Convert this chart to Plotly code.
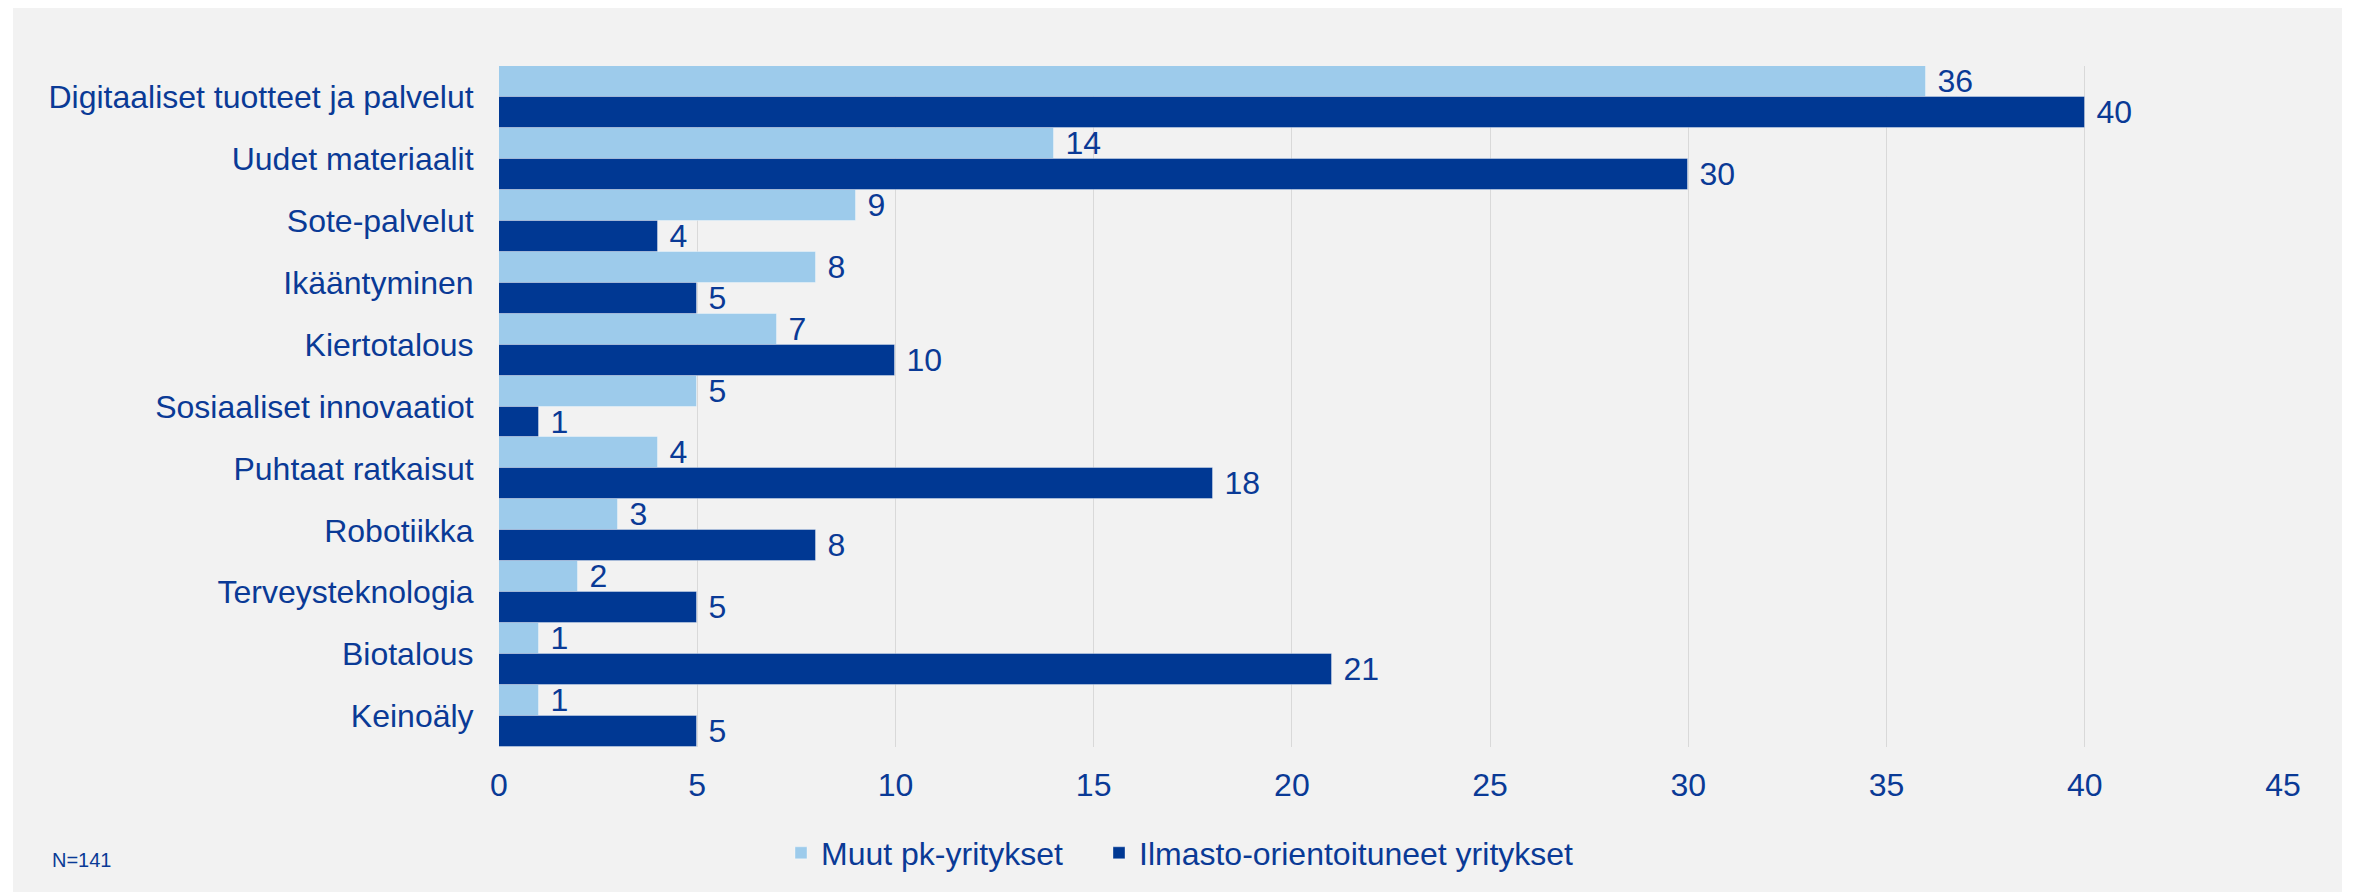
import plotly.graph_objects as go

categories = [
    "Digitaaliset tuotteet ja palvelut",
    "Uudet materiaalit",
    "Sote-palvelut",
    "Ikääntyminen",
    "Kiertotalous",
    "Sosiaaliset innovaatiot",
    "Puhtaat ratkaisut",
    "Robotiikka",
    "Terveysteknologia",
    "Biotalous",
    "Keinoäly",
]
muut = [36, 14, 9, 8, 7, 5, 4, 3, 2, 1, 1]
ilmasto = [40, 30, 4, 5, 10, 1, 18, 8, 5, 21, 5]
series_names = ["Muut pk-yritykset", "Ilmasto-orientoituneet yritykset"]
x_ticks = [0, 5, 10, 15, 20, 25, 30, 35, 40, 45]
note = "N=141"

LIGHT = "#9DCBEB"
DARK = "#003893"
TEXT = "#0A3A96"
FONT = "Liberation Sans, Arial, sans-serif"
FS = 32

W, H = 2354, 892
L, R, T, B = 491, 2275, 58, 739

def px(xp):
    return (xp - L) / (R - L)

def py(yp):
    return (B - yp) / (B - T)

fig = go.Figure()
for name, vals, col, lg in [(series_names[0], muut, LIGHT, "legend"),
                            (series_names[1], ilmasto, DARK, "legend2")]:
    fig.add_trace(go.Bar(
        y=categories, x=vals, name=name, orientation="h", legend=lg,
        marker=dict(color=col, line=dict(color="rgba(255,255,255,0.35)", width=1)),
        text=[f"\u00a0{v}" for v in vals], textposition="outside",
        constraintext="none",
        textfont=dict(family=FONT, size=FS, color=TEXT),
        cliponaxis=False,
    ))

fig.add_shape(type="rect", xref="paper", yref="paper",
              x0=px(5), x1=px(2334), y0=py(900), y1=py(-5),
              fillcolor="#F2F2F2", line=dict(width=0), layer="below")

fig.add_annotation(text=note, xref="paper", yref="paper", x=px(42), y=py(852),
                   xanchor="left", yanchor="middle", showarrow=False,
                   font=dict(family=FONT, size=20, color=TEXT))

legend_common = dict(orientation="h", yanchor="middle", xanchor="left", y=py(845),
                     font=dict(family=FONT, size=FS, color=TEXT), bgcolor="rgba(0,0,0,0)",
                     itemwidth=30)

fig.update_layout(
    width=W, height=H,
    margin=dict(l=L, r=W - R, t=T, b=H - B, autoexpand=False),
    paper_bgcolor="white", plot_bgcolor="rgba(0,0,0,0)",
    barmode="group", bargap=0, bargroupgap=0,
    font=dict(family=FONT, size=FS, color=TEXT),
    showlegend=True,
    legend=dict(x=px(773), **legend_common),
    legend2=dict(x=px(1091), **legend_common),
    xaxis=dict(range=[0, 45], tickvals=x_ticks, showgrid=True, gridcolor="#D9D9D9", gridwidth=1,
               zeroline=False, showline=False, ticks="outside", ticklen=10,
               tickcolor="rgba(0,0,0,0)", tickfont=dict(family=FONT, size=FS, color=TEXT)),
    yaxis=dict(range=[len(categories) - 0.5, -0.5], type="category", showgrid=False,
               zeroline=False, showline=False, ticks="outside", ticklen=18,
               tickcolor="rgba(0,0,0,0)", tickfont=dict(family=FONT, size=FS, color=TEXT)),
)

fig.write_html("out.html")
